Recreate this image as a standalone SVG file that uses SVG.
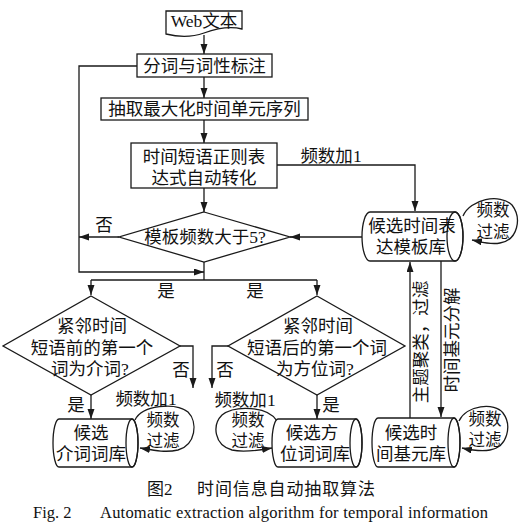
<svg xmlns="http://www.w3.org/2000/svg" width="521" height="530" viewBox="0 0 521 530">
<style>
.s{fill:none;stroke:#1a1a1a;stroke-width:1.3}
.b{fill:#fff;stroke:#1a1a1a;stroke-width:1.3}
.t{font-family:"Noto Sans CJK SC","Noto Sans CJK JP",sans-serif;font-size:17.5px;fill:#111;text-anchor:middle}
.m{font-size:16.5px}
.r{font-family:"Liberation Serif",serif}
.e{font-family:"Liberation Serif",serif;font-size:16.5px;fill:#111}
</style>
<defs>
<marker id="a" markerUnits="userSpaceOnUse" markerWidth="11" markerHeight="8" refX="10" refY="3.5" orient="auto">
<path d="M0,0 L10,3.5 L0,7 Z" fill="#1a1a1a"/>
</marker>
</defs>
<g id="connectors">
<path class="s" d="M204,35 L204,54" marker-end="url(#a)"/>
<path class="s" d="M204,77 L204,98" marker-end="url(#a)"/>
<path class="s" d="M204,120 L204,143" marker-end="url(#a)"/>
<path class="s" d="M204,188 L204,212" marker-end="url(#a)"/>
<path class="s" d="M119,237 L79,237" marker-end="url(#a)"/>
<path class="s" d="M137,66 L79,66 L79,272 L204,272" marker-end="url(#a)"/>
<path class="s" d="M204,262 L204,280"/>
<path class="s" d="M91,280 L317,280"/>
<path class="s" d="M91,280 L91,295" marker-end="url(#a)"/>
<path class="s" d="M317,280 L317,295" marker-end="url(#a)"/>
<path class="s" d="M277,165 L415,165 L415,211" marker-end="url(#a)"/>
<path class="s" d="M362,237 L290,237" marker-end="url(#a)"/>
<path class="s" d="M180,346 L193,346 L193,388" marker-end="url(#a)"/>
<path class="s" d="M228,346 L212,346 L212,388" marker-end="url(#a)"/>
<path class="s" d="M91,395 L91,419" marker-end="url(#a)"/>
<path class="s" d="M317,395 L317,419" marker-end="url(#a)"/>
<path class="s" d="M410,418 L410,262" marker-end="url(#a)"/>
<path class="s" d="M441,261 L441,417" marker-end="url(#a)"/>
<path class="s" d="M463,216 C470,199 500,193 512,205 C522,218 518,240 500,243 C490,245 482,242 472,240" marker-end="url(#a)"/>
<path class="s" d="M135,420 C142,405 175,402 188,412 C198,422 196,445 178,450 C165,453 152,450 140,448" marker-end="url(#a)"/>
<path class="s" d="M277,421 C268,406 235,405 222,415 C212,425 214,445 232,450 C245,453 260,450 272,448" marker-end="url(#a)"/>
<path class="s" d="M459,421 C466,405 495,402 503,413 C512,425 508,447 490,450 C480,452 471,450 462,448" marker-end="url(#a)"/>
<text class="t" x="331" y="162">频数加<tspan class="r">1</tspan></text>
<text class="t" x="104" y="231">否</text>
<text class="t" x="166" y="297">是</text>
<text class="t" x="255" y="297">是</text>
<text class="t" x="181" y="376">否</text>
<text class="t" x="225" y="376">否</text>
<text class="t" x="76" y="411">是</text>
<text class="t" x="331" y="411">是</text>
<text class="t" x="146" y="405">频数加<tspan class="r">1</tspan></text>
<text class="t" x="245" y="406">频数加<tspan class="r">1</tspan></text>
<text class="t" transform="translate(421,342) rotate(-90)" y="6">主题聚类，过滤</text>
<text class="t" transform="translate(452,340) rotate(-90)" y="6">时间基元分解</text>
<text class="t m" x="493" y="216">频数</text>
<text class="t m" x="493" y="238">过滤</text>
<text class="t m" x="163" y="426">频数</text>
<text class="t m" x="163" y="447">过滤</text>
<text class="t m" x="248" y="426">频数</text>
<text class="t m" x="248" y="447">过滤</text>
<text class="t m" x="485" y="425">频数</text>
<text class="t m" x="485" y="446">过滤</text>
</g>
<g id="web">
<path class="b" d="M166,11 L242,11 L242,29 C230,26 218,28 204,33 C190,38 178,37 166,34 Z"/>
<text class="t" x="204" y="27"><tspan class="r">Web</tspan>文本</text>
</g>
<g id="seg">
<rect class="b" x="137" y="54" width="135" height="23"/>
<text class="t" x="204.5" y="71.5">分词与词性标注</text>
</g>
<g id="extract">
<rect class="b" x="101" y="98" width="207" height="22"/>
<text class="t" x="204.5" y="115">抽取最大化时间单元序列</text>
</g>
<g id="regex">
<rect class="b" x="131" y="143" width="146" height="45"/>
<text class="t" x="204" y="163">时间短语正则表</text>
<text class="t" x="204" y="184">达式自动转化</text>
</g>
<g id="dec1">
<path class="b" d="M204,212 L290,237 L204,262 L119,237 Z"/>
<text class="t" x="205" y="243">模板频数大于<tspan class="r">5?</tspan></text>
</g>
<g id="tplLib">
<path class="b" d="M370,212 L455,212 A8,24.5 0 0 1 455,261 L370,261 A8,24.5 0 0 1 370,212 Z"/>
<ellipse class="s" cx="455" cy="236.5" rx="8" ry="24.5"/>
<text class="t" x="412" y="232">候选时间表</text>
<text class="t" x="411" y="253">达模板库</text>
</g>
<g id="dec2">
<path class="b" d="M91,296 L180,346 L91,395 L3,346 Z"/>
<text class="t" x="92" y="332">紧邻时间</text>
<text class="t" x="92" y="354">短语前的第一个</text>
<text class="t" x="90" y="375">词为介词<tspan class="r">?</tspan></text>
</g>
<g id="dec3">
<path class="b" d="M317,296 L405,346 L317,395 L228,346 Z"/>
<text class="t" x="318" y="332">紧邻时间</text>
<text class="t" x="317" y="354">短语后的第一个词</text>
<text class="t" x="315" y="375">为方位词<tspan class="r">?</tspan></text>
</g>
<g id="prepLib">
<path class="b" d="M59,419 L132,419 A6,24 0 0 1 132,467 L59,467 A6,24 0 0 1 59,419 Z"/>
<ellipse class="s" cx="132" cy="443" rx="6" ry="24"/>
<text class="t" x="91" y="439">候选</text>
<text class="t" x="91" y="460">介词词库</text>
</g>
<g id="locLib">
<path class="b" d="M278,419 L356,419 A6,24 0 0 1 356,467 L278,467 A6,24 0 0 1 278,419 Z"/>
<ellipse class="s" cx="356" cy="443" rx="6" ry="24"/>
<text class="t" x="312" y="439">候选方</text>
<text class="t" x="315" y="460">位词词库</text>
</g>
<g id="unitLib">
<path class="b" d="M378,418 L454,418 A6,24.5 0 0 1 454,467 L378,467 A6,24.5 0 0 1 378,418 Z"/>
<ellipse class="s" cx="454" cy="442.5" rx="6" ry="24.5"/>
<text class="t" x="411" y="439">候选时</text>
<text class="t" x="411" y="460">间基元库</text>
</g>
<g id="caption">
<text class="t" x="0" y="495" style="text-anchor:start;font-size:17px"><tspan x="147">图<tspan class="r">2</tspan></tspan><tspan x="197" textLength="178">时间信息自动抽取算法</tspan></text>
<text class="e" y="518"><tspan x="33">Fig. 2</tspan><tspan x="100" textLength="388">Automatic extraction algorithm for temporal information</tspan></text>
</g>
</svg>
